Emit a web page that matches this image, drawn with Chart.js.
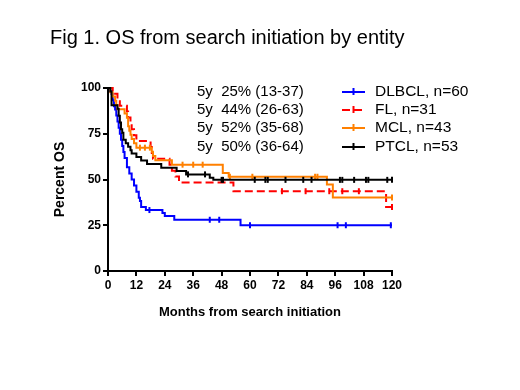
<!DOCTYPE html>
<html>
<head>
<meta charset="utf-8">
<script src="https://cdn.jsdelivr.net/npm/chart.js@4.4.1/dist/chart.umd.min.js"></script>
<style>
    html, body { margin: 0; padding: 0; background: #fff; }
    #wrap { position: relative; width: 520px; height: 390px; }
</style>
</head>
<body>
<div id="wrap"><canvas id="os-chart"></canvas></div>
<script>
// Kaplan-Meier steps: [month, % OS]
const dlbclCurve = [[0,100],[1,98.3],[1.5,96.7],[2,93.3],[2.5,90],[3,88.3],[3.5,85],[4,81.7],[4.5,78.3],[5,75],[5.5,71.7],[6,68.3],[6.5,65],[7,61.7],[8,56.7],[9,53.3],[10,50],[11,46.7],[12,43.3],[13,40],[13.5,38.3],[14,35],[16,33.3],[23,31.7],[24,30],[28,28],[56,25],[120,25]];
const flCurve = [[0,100],[2,96.8],[4,93.5],[5,90.3],[8,87.1],[8.5,83.9],[9.5,80.6],[10,77.4],[11,74.2],[12,71],[18,67.7],[18.5,64.5],[19,61.3],[26,58.1],[27,54.8],[28.5,51.6],[30,48.4],[53,43.6],[117.5,35],[120,35]];
const mclCurve = [[0,100],[1,97.7],[2,95.3],[3,93],[3.5,90.7],[4,88.4],[7,86],[8,83.7],[8.5,79.1],[9,76.7],[9.5,74.4],[10,72.1],[11,69.8],[12,67.4],[18.5,65.1],[19,62.8],[20,60.5],[27,58.1],[48.5,53.5],[51,51.5],[92.5,47.3],[95,40.2],[120,40.2]];
const ptclCurve = [[0,100],[1,98.1],[1.5,90.6],[4,88.7],[4.5,84.9],[5,81.1],[5.5,77.4],[6,75.5],[6.5,71.7],[7.5,69.8],[8.5,67.9],[9.5,66],[10,64.2],[12,62.3],[14,60.4],[16.5,58.5],[22.5,56.4],[29,54.7],[33,52.8],[43,51],[44.5,49.8],[120,49.8]];

// censored observations (months)
const dlbclCensored = [17.5, 43, 47, 60, 97, 100.5, 119.5];
const flCensored = [73.5, 83.5, 93.5, 99, 106, 120];
const mclCensored = [13.5, 15.6, 17.7, 31.5, 36, 40, 51.5, 61, 87.5, 88.5, 120];
const ptclCensored = [33.8, 41, 48, 48.6, 62, 66.5, 67.5, 75, 82.5, 86, 98, 99, 104, 109, 110, 118, 120];

const seriesNames = ['DLBCL, n=60', 'FL, n=31', 'MCL, n=43', 'PTCL, n=53'];
const seriesColors = ['#0000ff', '#ff0000', '#ff8000', '#000000'];
const fiveYearText = ['5y  25% (13-37)', '5y  44% (26-63)', '5y  52% (35-68)', '5y  50% (36-64)'];
const xTicks = [0, 12, 24, 36, 48, 60, 72, 84, 96, 108, 120];
const yTicks = [0, 25, 50, 75, 100];

const FONT = 'Arial, "Liberation Sans", sans-serif';

function osAt(curve, t) {
    let y = curve[0][1];
    curve.forEach(p => { if (p[0] <= t) y = p[1]; });
    return y;
}

const curves = [dlbclCurve, flCurve, mclCurve, ptclCurve];
const censored = [dlbclCensored, flCensored, mclCensored, ptclCensored];
const dashes = [[], [8, 4], [], []];

const datasets = [];
curves.forEach((c, i) => {
    datasets.push({
        label: seriesNames[i],
        data: c.map(p => ({ x: p[0], y: p[1] })),
        stepped: 'before',
        borderColor: seriesColors[i],
        borderWidth: 2,
        borderDash: dashes[i],
        pointRadius: 0,
        fill: false,
        clip: false,
        order: 4 - i
    });
    datasets.push({
        label: seriesNames[i] + ' censored',
        data: censored[i].map(t => ({ x: t, y: osAt(c, t) })),
        showLine: false,
        pointStyle: 'line',
        rotation: 90,
        pointRadius: 3,
        pointBorderWidth: 2,
        borderColor: seriesColors[i],
        backgroundColor: seriesColors[i],
        clip: false,
        order: 4 - i
    });
});

// title, 5y annotations and legend
const extrasPlugin = {
    id: 'extras',
    afterDraw(chart) {
        const ctx = chart.ctx;
        ctx.save();
        ctx.fillStyle = '#000';
        ctx.textBaseline = 'alphabetic';
        ctx.font = '20px ' + FONT;
        ctx.fillText('Fig 1. OS from search initiation by entity', 50, 44);

        const rowY = [92, 110, 128, 147];
        ctx.textBaseline = 'middle';
        ctx.font = '15px ' + FONT;
        fiveYearText.forEach((t, i) => ctx.fillText(t, 197, rowY[i]));

        ctx.font = '15.5px ' + FONT;
        seriesNames.forEach((name, i) => {
            const y = rowY[i];
            ctx.strokeStyle = seriesColors[i];
            ctx.lineWidth = 2;
            ctx.setLineDash(dashes[i]);
            ctx.beginPath();
            ctx.moveTo(342, y);
            ctx.lineTo(365, y);
            ctx.stroke();
            ctx.setLineDash([]);
            ctx.beginPath();
            ctx.moveTo(353.5, y - 4);
            ctx.lineTo(353.5, y + 3);
            ctx.stroke();
            ctx.fillStyle = '#000';
            ctx.fillText(name, 375, y);
        });
        ctx.restore();
    }
};

new Chart(document.getElementById('os-chart'), {
    type: 'line',
    data: { datasets: datasets },
    options: {
        responsive: true,
        maintainAspectRatio: false,
        animation: false,
        layout: { padding: { left: 50, top: 88, right: 128, bottom: 66 } },
        plugins: {
            legend: { display: false },
            tooltip: { enabled: false }
        },
        scales: {
            x: {
                type: 'linear',
                min: 0,
                max: 120,
                afterBuildTicks: scale => { scale.ticks = xTicks.map(v => ({ value: v })); },
                afterFit: scale => { scale.height = 53; },
                ticks: { color: '#000', font: { family: FONT, size: 12, weight: 'bold' }, padding: 2, maxRotation: 0 },
                grid: { drawOnChartArea: false, drawTicks: true, tickLength: 5, color: '#000', lineWidth: 2 },
                border: { display: true, color: '#000', width: 2 },
                title: { display: true, text: 'Months from search initiation', color: '#000', font: { family: FONT, size: 13, weight: 'bold' }, padding: 4 }
            },
            y: {
                type: 'linear',
                min: 0,
                max: 100,
                afterBuildTicks: scale => { scale.ticks = yTicks.map(v => ({ value: v })); },
                afterFit: scale => { scale.width = 58; },
                ticks: { color: '#000', font: { family: FONT, size: 12, weight: 'bold' }, padding: 2 },
                grid: { drawOnChartArea: false, drawTicks: true, tickLength: 5, color: '#000', lineWidth: 2 },
                border: { display: true, color: '#000', width: 2 },
                title: { display: true, text: 'Percent OS', color: '#000', font: { family: FONT, size: 14, weight: 'bold' }, padding: 2 }
            }
        }
    },
    plugins: [extrasPlugin]
});
</script>
</body>
</html>
